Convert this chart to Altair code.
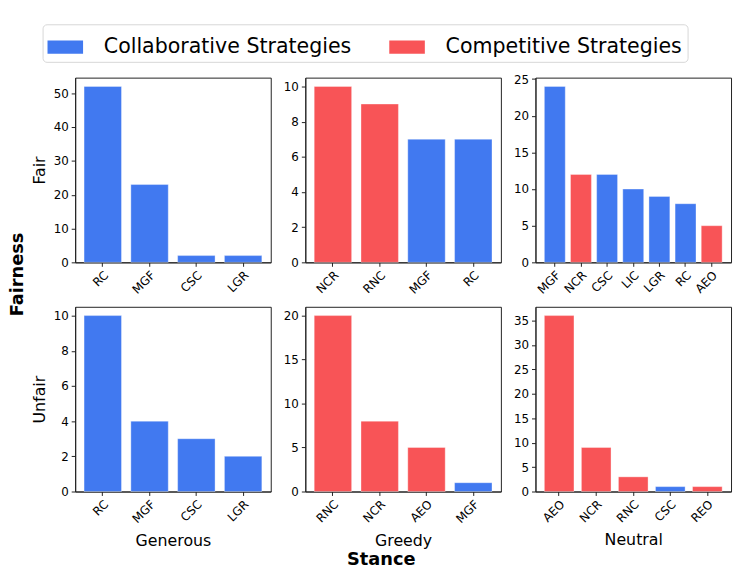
import altair as alt
import pandas as pd

stances = ["Generous", "Greedy", "Neutral"]
fairness = ["Fair", "Unfair"]

fair_generous_labels = ["RC", "MGF", "CSC", "LGR"]
fair_generous_values = [52, 23, 2, 2]
fair_greedy_labels = ["NCR", "RNC", "MGF", "RC"]
fair_greedy_values = [10, 9, 7, 7]
fair_neutral_labels = ["MGF", "NCR", "CSC", "LIC", "LGR", "RC", "AEO"]
fair_neutral_values = [24, 12, 12, 10, 9, 8, 5]
unfair_generous_labels = ["RC", "MGF", "CSC", "LGR"]
unfair_generous_values = [10, 4, 3, 2]
unfair_greedy_labels = ["RNC", "NCR", "AEO", "MGF"]
unfair_greedy_values = [20, 8, 5, 1]
unfair_neutral_labels = ["AEO", "NCR", "RNC", "CSC", "REO"]
unfair_neutral_values = [36, 9, 3, 1, 1]

collaborative = ["RC", "MGF", "CSC", "LGR", "LIC"]
competitive = ["NCR", "RNC", "AEO", "REO"]
categories = ["Collaborative Strategies", "Competitive Strategies"]
colors = ["#4179F0", "#F85457"]

tick_steps = [[10, 2, 5], [2, 5, 5]]

FONT = "DejaVu Sans"


def panel(labels, values, row, col):
    n = len(labels)
    df = pd.DataFrame({
        "strategy": labels,
        "count": values,
        "type": [categories[0] if s in collaborative else categories[1] for s in labels],
    })
    ymax = max(values) * 1.05
    step = tick_steps[row][col]
    ticks = list(range(0, int(ymax) + 1, step))
    xaxis_kw = dict(labelAngle=315, labelAlign="right", labelBaseline="top",
                    labelFontSize=12, labelPadding=3, tickSize=4,
                    titleFontSize=16, titlePadding=8, titleFontWeight="normal")
    if row == 1:
        xaxis_kw["title"] = stances[col]
    else:
        xaxis_kw["title"] = None
    yaxis_kw = dict(values=ticks, format="d", labelFontSize=12, labelPadding=3,
                    tickSize=4, titleFontSize=16, titlePadding=6,
                    titleFontWeight="normal", grid=False)
    if col == 0:
        yaxis_kw["title"] = fairness[row]
    else:
        yaxis_kw["title"] = None
    return alt.Chart(df).mark_bar(stroke="white", strokeWidth=0.8, strokeOpacity=0.45).encode(
        x=alt.X("strategy:N", sort=labels,
                scale=alt.Scale(paddingInner=0.2, paddingOuter=0.05 * (n - 0.2)),
                axis=alt.Axis(**xaxis_kw)),
        y=alt.Y("count:Q", scale=alt.Scale(domain=[0, ymax], nice=False, zero=True),
                axis=alt.Axis(**yaxis_kw)),
        color=alt.Color("type:N", scale=alt.Scale(domain=categories, range=colors),
                        legend=alt.Legend(title=None, orient="none", direction="horizontal",
                                          legendX=-33, legendY=-54,
                                          symbolType="M-1,-0.375H1V0.375H-1Z",
                                          symbolSize=1296, symbolStrokeWidth=0,
                                          symbolOpacity=1,
                                          labelFontSize=20.8, labelOffset=21, labelLimit=0,
                                          columnPadding=38, padding=5,
                                          fillColor="white", strokeColor="#d6d6d6",
                                          cornerRadius=4, labelFont=FONT)),
    ).properties(width=198, height=187)


panels = [
    panel(fair_generous_labels, fair_generous_values, 0, 0),
    panel(fair_greedy_labels, fair_greedy_values, 0, 1),
    panel(fair_neutral_labels, fair_neutral_values, 0, 2),
    panel(unfair_generous_labels, unfair_generous_values, 1, 0),
    panel(unfair_greedy_labels, unfair_greedy_values, 1, 1),
    panel(unfair_neutral_labels, unfair_neutral_values, 1, 2),
]

inner = alt.concat(*panels, columns=3, spacing={"row": 9, "column": 11}).properties(
    title=alt.TitleParams("Stance", orient="bottom", anchor="middle", fontSize=18,
                          fontWeight="bold", offset=2, font=FONT, color="black")
)

chart = alt.hconcat(inner).properties(
    title=alt.TitleParams("Fairness", orient="left", anchor="middle", fontSize=18,
                          fontWeight="bold", offset=4, font=FONT, color="black", dx=22),
    padding={"left": 1, "top": 12, "right": 2, "bottom": 0},
).configure(font=FONT).configure_view(
    stroke="#222222", strokeWidth=1
).configure_axis(
    domainColor="#222222", tickColor="#222222", labelColor="black", titleColor="black",
    labelFont=FONT, titleFont=FONT
)

chart.save("out.html", embed_options={"renderer": "svg", "actions": False})
